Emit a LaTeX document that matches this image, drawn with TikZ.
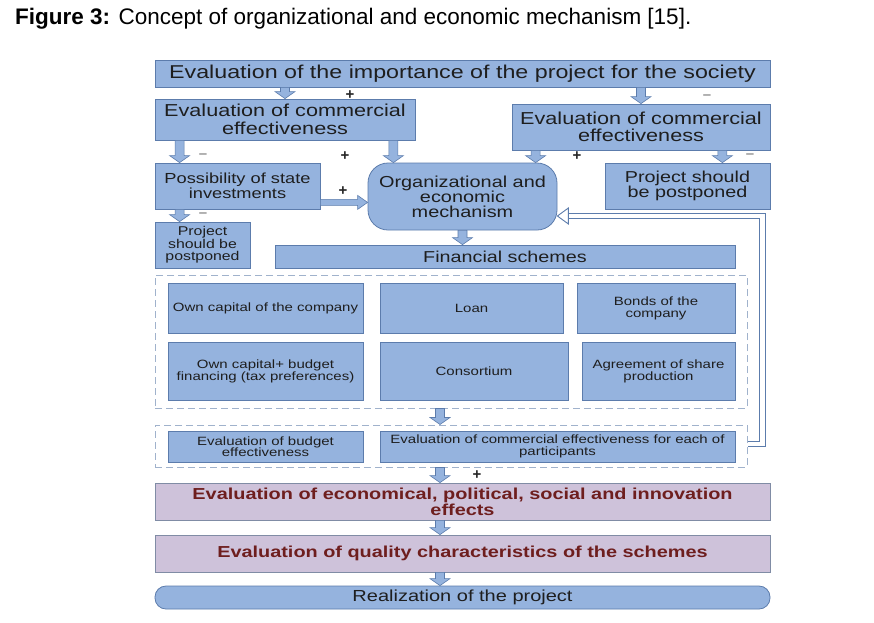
\documentclass[tikz,border=0pt]{standalone}
\usepackage{fontspec}
\setmainfont{Liberation Sans}
\newfontfamily\wide[FakeStretch=1.25]{Liberation Sans}
\usetikzlibrary{calc}
\definecolor{boxfill}{RGB}{149,179,222}
\definecolor{boxdraw}{RGB}{92,124,172}
\definecolor{purfill}{RGB}{206,194,218}
\definecolor{purdraw}{RGB}{128,140,165}
\definecolor{purtext}{RGB}{110,30,30}
\definecolor{txt}{RGB}{30,30,30}
\definecolor{dashc}{RGB}{160,178,204}
\newcommand\myDarr[2]{\filldraw[arrowst] let \p1=(#1), \p2=(#2) in
  ({\x1-4.5pt},\y1) -- ({\x1-4.5pt},{\y2+7pt}) -- ({\x1-10pt},{\y2+7pt}) -- (\x1,\y2)
  -- ({\x1+10pt},{\y2+7pt}) -- ({\x1+4.5pt},{\y2+7pt}) -- ({\x1+4.5pt},\y1) -- cycle;}
\tikzset{
  box/.style={draw=boxdraw, fill=boxfill, line width=0.8pt, inner sep=0pt, align=center, text=txt},
  bx/.style 2 args={box, minimum width=#1pt, minimum height=#2pt},
  fs/.style 2 args={font={\wide\fontsize{#1}{#2}\selectfont}},
  pbx/.style 2 args={draw=purdraw, fill=purfill, line width=0.8pt, inner sep=0pt, align=center,
     text=purtext, minimum width=#1pt, minimum height=#2pt},
  cont/.style 2 args={draw=dashc, line width=1pt, dash pattern=on 7pt off 4pt, inner sep=0pt,
     minimum width=#1pt, minimum height=#2pt},
  arrowst/.style={fill=boxfill, draw=boxdraw, line width=0.6pt, line join=miter},
  fbout/.style={draw=boxdraw, line width=6.4pt, line join=miter},
  fbin/.style={draw=white, line width=4.6pt, line join=miter},
  fbhead/.style={fill=white, draw=boxdraw, line width=0.9pt},
  plus/.style={font={\bfseries\fontsize{15}{15}\selectfont}, text=black!85, inner sep=0pt},
  minus/.style={font={\bfseries\fontsize{15}{15}\selectfont}, text=black!40, inner sep=0pt},
}
\begin{document}
\begin{tikzpicture}[x=1pt,y=-1pt]
\useasboundingbox[fill=white] (0,0) rectangle (874,622);
\node[anchor=base west, inner sep=0pt, font={\fontsize{22.5}{27}\selectfont}] (title) at (15,24)
  {\textbf{Figure 3:} Concept of organizational and economic mechanism [15].};

\node[bx={615}{27}, fs={18.6}{20}] (top) at (462.5,73.5) {Evaluation of the importance of the project for the society};
\node[bx={260}{41}, fs={17.3}{18}] (evalL) at (285,119.5) {Evaluation of commercial\\effectiveness};
\node[bx={258}{46}, fs={17.3}{17}] (evalR) at (641,127) {Evaluation of commercial\\effectiveness};
\node[bx={165}{46}, fs={14.6}{13.5}] (poss) at (237.5,186) {Possibility of state\\investments};
\node[bx={189}{67}, fs={15.9}{15}, rounded corners=20pt] (mech) at (462.5,196.5) {Organizational and\\economic\\mechanism};
\node[bx={165}{46}, fs={15.8}{15}] (postR) at (687.5,186) {Project should\\be postponed};
\node[bx={95}{46}, fs={12.7}{12.5}] (postL) at (202.5,245) {Project\\should be\\postponed};
\node[bx={460}{23}, fs={15.8}{15}] (fin) at (505,256.5) {Financial schemes};

\node[cont={592}{133}] (c1) at (451,341.5) {};
\node[bx={195}{50}, fs={12}{12}] (b11) at (265.5,308) {Own capital of the company};
\node[bx={183}{50}, fs={12}{12}] (b12) at (471.5,308) {Loan};
\node[bx={158}{50}, fs={12}{12}] (b13) at (656,308) {Bonds of the\\company};
\node[bx={195}{58}, fs={12}{12}] (b21) at (265.5,371) {Own capital+ budget\\financing (tax preferences)};
\node[bx={188}{58}, fs={12}{12}] (b22) at (474,371) {Consortium};
\node[bx={153}{58}, fs={12}{12}] (b23) at (658.5,371) {Agreement of share\\production};

\node[cont={592}{42}] (c2) at (451,446) {};
\node[bx={195}{31}, fs={12}{11.5}] (b31) at (265.5,446.5) {Evaluation of budget\\effectiveness};
\node[bx={355}{31}, fs={12}{11.5}] (b32) at (557.5,446.5) {Evaluation of commercial effectiveness for each of\\participants};

\node[pbx={615}{37}, font={\wide\bfseries\fontsize{15.9}{14.5}\selectfont}] (p1) at (462.5,501.5) {Evaluation of economical, political, social and innovation\\effects};
\node[pbx={615}{37}, font={\wide\bfseries\fontsize{15.9}{14.5}\selectfont}] (p2) at (462.5,553.5) {Evaluation of quality characteristics of the schemes};
\node[bx={615}{23}, fs={16}{15}, rounded corners=11pt] (real) at (462.5,597.5) {Realization of the project};

% block arrows
\myDarr{top.south -| evalL.north}{evalL.north}
\myDarr{top.south -| evalR.north}{evalR.north}
\myDarr{[xshift=25pt]evalL.south west}{[xshift=25pt]evalL.south west |- poss.north}
\myDarr{[xshift=-22pt]evalL.south east}{[xshift=-22pt]evalL.south east |- mech.north}
\myDarr{[xshift=24pt]evalR.south west}{[xshift=24pt]evalR.south west |- mech.north}
\myDarr{[xshift=-48pt]evalR.south east}{[xshift=-48pt]evalR.south east |- postR.north}
\myDarr{[xshift=25pt]poss.south west}{[xshift=25pt]poss.south west |- postL.north}
\myDarr{mech.south}{mech.south |- fin.north}
\myDarr{[xshift=-11pt]c1.south}{[xshift=-11pt]c1.south |- c2.north}
\myDarr{[xshift=-11pt]c2.south}{[xshift=-11pt]c2.south |- p1.north}
\myDarr{[xshift=-22.5pt]p1.south}{[xshift=-22.5pt]p1.south |- p2.north}
\myDarr{[xshift=-22.5pt]p2.south}{[xshift=-22.5pt]p2.south |- real.north}

% possibility -> mechanism
\filldraw[arrowst] let \p1=([yshift=7pt]poss.south east), \p2=([yshift=7pt]poss.south east -| mech.west) in
  (\x1,{\y1+3pt}) -- ({\x2-10pt},{\y1+3pt}) -- ({\x2-10pt},{\y1+7pt}) -- (\x2,\y1)
  -- ({\x2-10pt},{\y1-7pt}) -- ({\x2-10pt},{\y1-3pt}) -- (\x1,{\y1-3pt}) -- cycle;

% feedback
\coordinate (fbend) at ([yshift=-19.5pt]mech.east);
\coordinate (fbcorner) at ([xshift=15pt,yshift=2pt]c2.east);
\draw[fbout] ([yshift=2pt]c2.east) -- (fbcorner) -- (fbcorner |- fbend) -- ([xshift=10pt]fbend);
\draw[fbin] ([yshift=2pt]c2.east) -- (fbcorner) -- (fbcorner |- fbend) -- ([xshift=10.5pt]fbend);
\filldraw[fbhead] (fbend) -- ++(11,-8) -- ++(0,16) -- cycle;

% signs
\node[plus] (s1) at (350,95) {+};
\node[minus] (s2) at (707,97) {–};
\node[minus] (s3) at (203,156) {–};
\node[plus] (s4) at (345,156) {+};
\node[plus] (s5) at (577,156) {+};
\node[minus] (s6) at (750,156) {–};
\node[plus] (s7) at (343,191) {+};
\node[minus] (s8) at (203,215) {–};
\node[plus] (s9) at (477,475) {+};
\end{tikzpicture}
\end{document}
